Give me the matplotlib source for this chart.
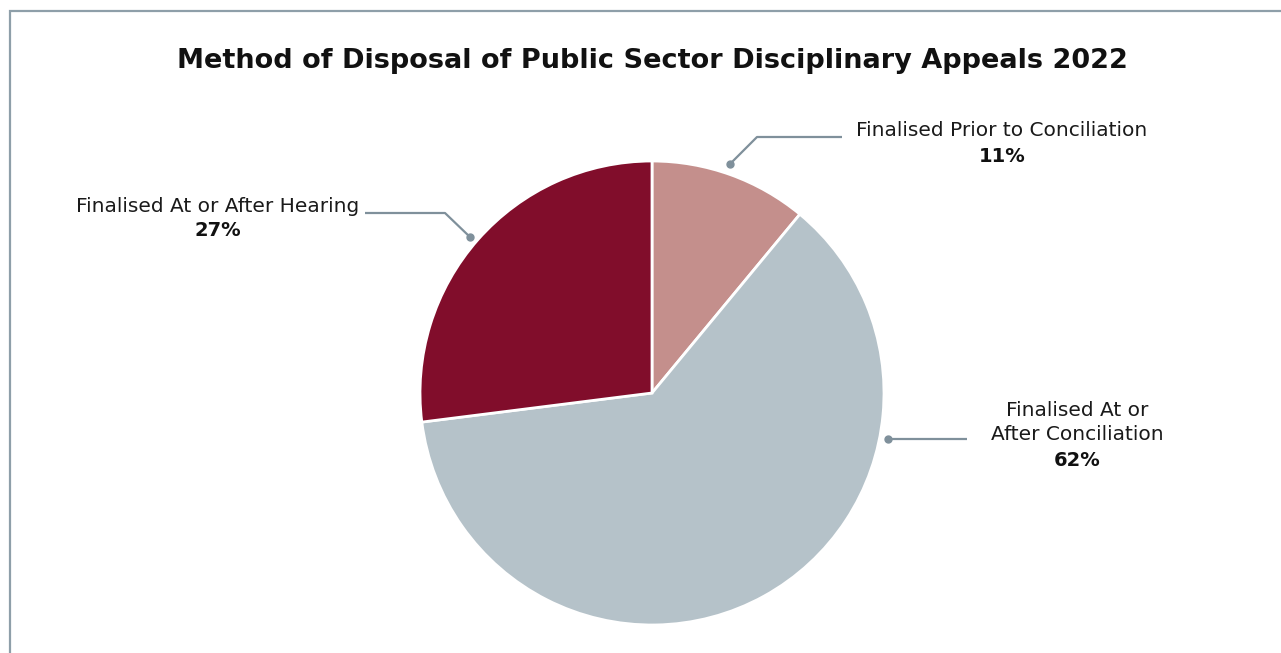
import numpy as np
import matplotlib.pyplot as plt
from matplotlib.patches import Rectangle

# Disposal of public sector disciplinary appeals, 2022
categories = ["Finalised Prior to Conciliation",
              "Finalised At or\nAfter Conciliation",
              "Finalised At or After Hearing"]
shares = [11, 62, 27]
colors = ["#c48f8c", "#b5c2c9", "#810d2b"]

W, H = 1281, 653
LINE = "#7f909b"

def py(y):
    # pixel row (from top) -> data y
    return H - y

fig = plt.figure(figsize=(W / 100, H / 100), dpi=100)
ax = fig.add_axes([0, 0, 1, 1])
ax.set_xlim(0, W)
ax.set_ylim(0, H)
ax.set_aspect("equal")
ax.axis("off")

# frame around the chart area
ax.add_patch(Rectangle((10, py(700)), 1400, 689, fill=False,
                       edgecolor="#8e9fa9", lw=1.6, clip_on=True))

cx, cy, r = 652, py(393), 232
wedges, _ = ax.pie(shares, colors=colors, startangle=90, counterclock=False,
                   center=(cx, cy), radius=r, frame=True,
                   wedgeprops=dict(edgecolor="white", linewidth=2))
ax.set_xlim(0, W)
ax.set_ylim(0, H)
ax.axis("off")

ax.text(652, py(61), "Method of Disposal of Public Sector Disciplinary Appeals 2022",
        ha="center", va="center", fontsize=19.5, fontweight="bold",
        family="DejaVu Sans", color="#111111")

# leader lines: dot on the rim, elbow, horizontal run to the label
leaders = [
    [(730, 164), (757, 137), (842, 137)],
    [(888, 439), (967, 439)],
    [(470, 237), (445, 213), (365, 213)],
]
label_pos = [(1002, 131, 157), (1077, [411, 435], 461), (218, 207, 231)]

for pts, (lx, ly, py_pct), name, val in zip(leaders, label_pos, categories, shares):
    xs = [p[0] for p in pts]
    ys = [py(p[1]) for p in pts]
    ax.plot(xs, ys, color=LINE, lw=1.6, solid_capstyle="butt")
    ax.plot(xs[0], ys[0], "o", color=LINE, ms=5)
    lines = name.split("\n")
    rows = ly if isinstance(ly, list) else [ly]
    for t, row in zip(lines, rows):
        ax.text(lx, py(row), t, ha="center", va="center", fontsize=14.5,
                family="DejaVu Sans", color="#1a1a1a")
    ax.text(lx, py(py_pct), f"{val}%", ha="center", va="center", fontsize=14,
            fontweight="bold", family="DejaVu Sans", color="#111111")

fig.savefig("out.png", dpi=100, facecolor="white")
